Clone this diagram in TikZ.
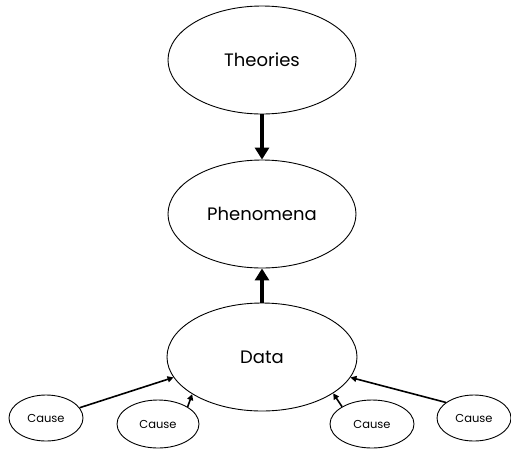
\documentclass[tikz,border=0pt]{standalone}
\usepackage{fontspec}
\setmainfont{Poppins}
\usetikzlibrary{shapes.geometric,arrows.meta}
\begin{document}
\begin{tikzpicture}[x=1pt,y=-1pt,
 big/.style={draw,ellipse,line width=0.9pt,minimum width=188pt,minimum height=108pt,inner sep=0pt,font=\fontsize{18}{21}\selectfont},
 small/.style={draw,ellipse,line width=0.9pt,minimum width=74pt,minimum height=46pt,inner sep=0pt,font=\fontsize{11.5}{13}\selectfont},
 bigarrow/.style={line width=4pt,-{Triangle[length=12pt,width=14pt]}},
 thinarrow/.style={line width=1.6pt,-{Triangle[length=6pt,width=6pt]}}]
\useasboundingbox (0,0) rectangle (511,448);
\node[big] (theories) at (262,60) {Theories};
\node[big] (phenomena) at (262,214) {Phenomena};
\node[big,minimum width=190pt] (data) at (262,357) {Data};
\node[small] (c1) at (46,418) {Cause};
\node[small,minimum width=82pt,minimum height=48pt] (c2) at (158,424) {Cause};
\node[small,minimum width=84pt,minimum height=48pt] (c3) at (372,424) {Cause};
\node[small] (c4) at (474,418) {Cause};
\draw[bigarrow] (theories.south) -- (phenomena.north);
\draw[bigarrow] (data.north) -- (phenomena.south);
\draw[thinarrow] (c1.17) -- (data.193);
\draw[thinarrow] (c2.30) -- (data.208);
\draw[thinarrow] (c3.150) -- (data.333);
\draw[thinarrow] (c4.151) -- (data.347);
\end{tikzpicture}
\end{document}
